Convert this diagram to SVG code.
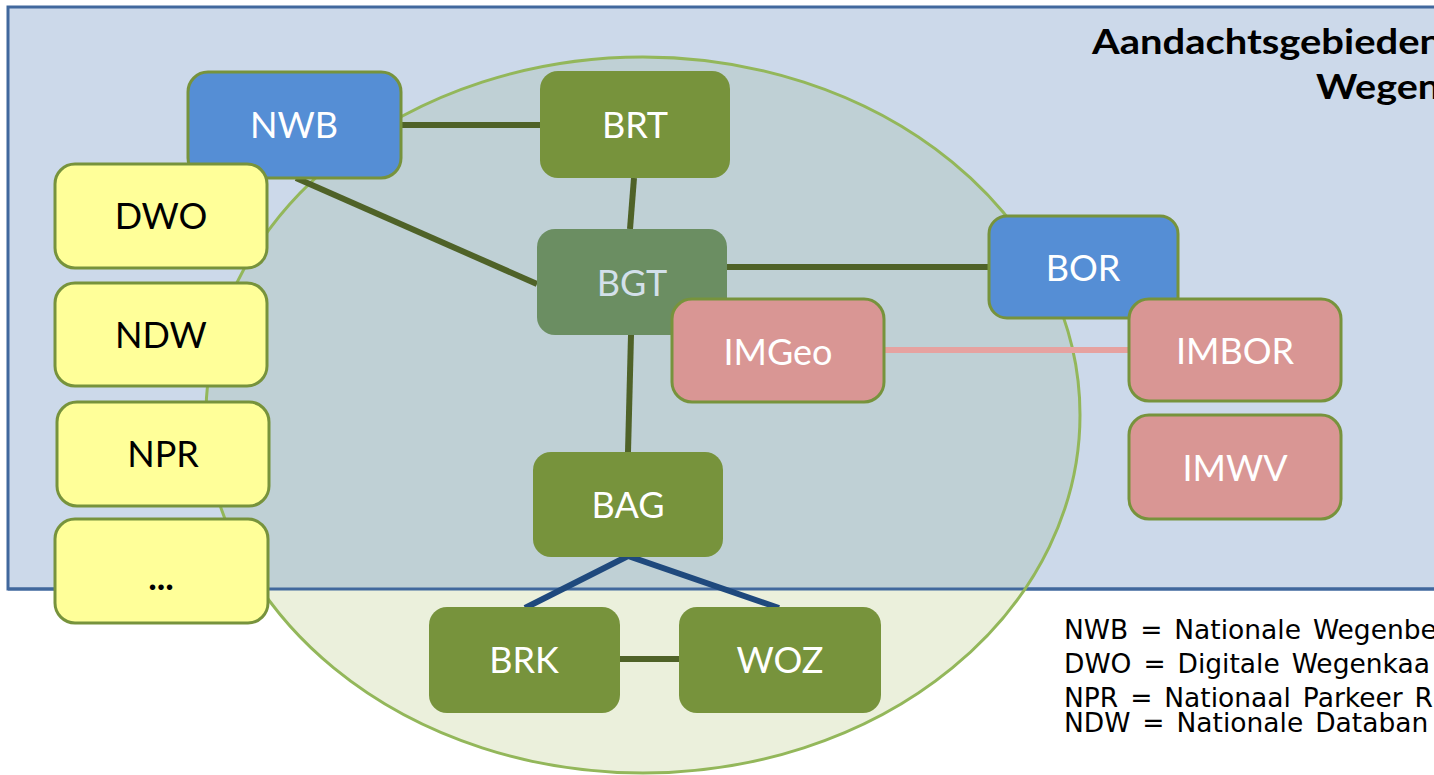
<svg xmlns="http://www.w3.org/2000/svg" width="1434" height="775" viewBox="0 0 1434 775">
<style>
.box{stroke:#77933c;stroke-width:3}
.blue{fill:#558ed5}
.grn{fill:#77933c}
.yel{fill:#ffff99}
.pink{fill:#d99694}
.lbl{font-family:Lato,"Open Sans",sans-serif;font-size:36px;text-anchor:middle;fill:#ffffff}
.dark{fill:#000000}
.con{stroke:#4f6228;stroke-width:6;fill:none}
.leg{font-family:"DejaVu Sans",Verdana,sans-serif;font-size:26.5px;word-spacing:3.5px;fill:#000000}
</style>
<defs>
<clipPath id="rc"><rect x="8" y="7" width="1440" height="582"/></clipPath>
</defs>
<rect width="1434" height="775" fill="#ffffff"/>
<g id="background">
<rect x="8" y="7" width="1440" height="582" fill="#ccd9ea" stroke="#41689d" stroke-width="3"/>
<ellipse cx="643" cy="415" rx="437" ry="358" fill="#ebf0dc"/>
<ellipse cx="643" cy="415" rx="437" ry="358" fill="#bfd0d5" clip-path="url(#rc)"/>
<line x1="8" y1="589" x2="1434" y2="589" stroke="#41689d" stroke-width="3"/>
<ellipse cx="643" cy="415" rx="437" ry="358" fill="none" stroke="#93b75a" stroke-width="3"/>
</g>
<g id="title" font-family="Lato,'Open Sans',sans-serif" font-weight="bold" font-size="34" fill="#000000">
<text x="1092" y="54" textLength="350" lengthAdjust="spacingAndGlyphs">Aandachtsgebieden</text>
<text x="1316" y="99" textLength="124" lengthAdjust="spacingAndGlyphs">Wegen</text>
</g>
<g id="connectors">
<line class="con" x1="401" y1="125" x2="540" y2="125"/>
<line class="con" x1="296" y1="178" x2="537" y2="284"/>
<line class="con" x1="634" y1="178" x2="630" y2="229"/>
<line class="con" x1="727" y1="267" x2="989" y2="267"/>
<line class="con" x1="631" y1="335" x2="628" y2="452"/>
<line class="con" x1="620" y1="659" x2="679" y2="659"/>
<line x1="884" y1="350" x2="1129" y2="350" stroke="#e6a2a0" stroke-width="6"/>
<polyline points="525,608 628,556 779,608" fill="none" stroke="#1f497d" stroke-width="6"/>
</g>
<g id="NWB"><rect class="box blue" x="188" y="72" width="213" height="106" rx="20"/><text class="lbl" x="294" y="138">NWB</text></g>
<g id="BRT"><rect class="grn" x="540" y="71" width="190" height="107" rx="18"/><text class="lbl" x="635" y="138">BRT</text></g>
<g id="DWO"><rect class="box yel" x="55" y="164" width="212" height="104" rx="20"/><text class="lbl dark" x="161" y="229">DWO</text></g>
<g id="NDW"><rect class="box yel" x="55" y="283" width="212" height="103" rx="20"/><text class="lbl dark" x="161" y="348">NDW</text></g>
<g id="NPR"><rect class="box yel" x="57" y="402" width="212" height="104" rx="20"/><text class="lbl dark" x="163" y="467">NPR</text></g>
<g id="more"><rect class="box yel" x="55" y="519" width="213" height="104" rx="20"/><text class="lbl dark" x="161" y="590" font-weight="bold" style="font-weight:bold">...</text></g>
<g id="BGT"><rect fill="#6b8e62" x="537" y="229" width="190" height="106" rx="18"/><text class="lbl" x="632" y="296" style="fill:#d3e0ea">BGT</text></g>
<g id="IMGeo"><rect class="box pink" x="672" y="299" width="212" height="103" rx="20"/><text class="lbl" x="778" y="365">IMGeo</text></g>
<g id="BOR"><rect class="box blue" x="989" y="216" width="189" height="102" rx="18"/><text class="lbl" x="1083" y="281">BOR</text></g>
<g id="IMBOR"><rect class="box pink" x="1129" y="299" width="212" height="102" rx="20"/><text class="lbl" x="1235" y="364">IMBOR</text></g>
<g id="IMWV"><rect class="box pink" x="1129" y="415" width="212" height="104" rx="20"/><text class="lbl" x="1235" y="481">IMWV</text></g>
<g id="BAG"><rect class="grn" x="533" y="452" width="190" height="105" rx="18"/><text class="lbl" x="628" y="518">BAG</text></g>
<g id="BRK"><rect class="grn" x="429" y="607" width="191" height="106" rx="18"/><text class="lbl" x="524" y="673">BRK</text></g>
<g id="WOZ"><rect class="grn" x="679" y="607" width="202" height="106" rx="18"/><text class="lbl" x="780" y="673">WOZ</text></g>
<g id="legend">
<text class="leg" x="1064" y="639">NWB = Nationale Wegenbe</text>
<text class="leg" x="1064" y="673">DWO = Digitale Wegenkaa</text>
<text class="leg" x="1064" y="707">NPR = Nationaal Parkeer R</text>
<text class="leg" x="1064" y="732">NDW = Nationale Databan</text>
</g>
</svg>
